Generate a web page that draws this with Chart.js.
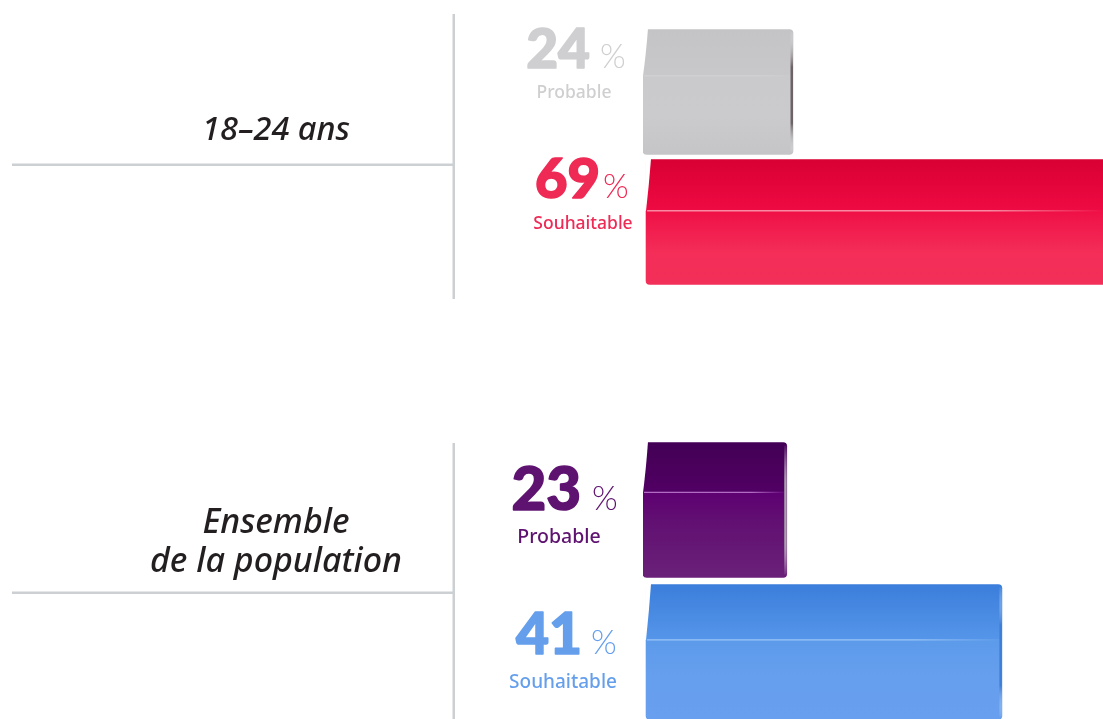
<!DOCTYPE html>
<html lang="fr"><head><meta charset="utf-8">
<style>
html,body{margin:0;padding:0;background:#fff;width:1103px;height:719px;overflow:hidden}
canvas{position:absolute;left:0}
#c1{top:0}#c2{top:430px}
</style>
<script src="https://cdn.jsdelivr.net/npm/chart.js@4/dist/chart.umd.min.js"></script>
</head><body>
<canvas id="c1" width="1103" height="310"></canvas>
<canvas id="c2" width="1103" height="300"></canvas>
<script>
// Data
const rowLabels = ['Probable', 'Souhaitable'];
const topGroup = '18\u201324 ans';
const topProbable = [24, null];
const topSouhaitable = [null, 69];
const bottomGroup = ['Ensemble', 'de la population'];
const bottomProbable = [23, null];
const bottomSouhaitable = [null, 41];

// Styles
const BOX = {
  grey:   {stops:[[0,'#c4c4c6'],[.36,'#c8c8ca'],[.37,'#cacacc'],[.7,'#cbcbcd'],[1,'#c5c5c7']], ridge:'#d0d0d2', text:'#cfcfd1', edge:'#6d6367', ridgeAt:.37},
  red:    {stops:[[0,'#d90033'],[.40,'#ee0a42'],[.41,'#ef1046'],[.75,'#f42e58'],[1,'#f22f58']], ridge:'#f78aa2', text:'#ee2a55', edge:null, ridgeAt:.41},
  purple: {stops:[[0,'#430055'],[.36,'#510063'],[.37,'#5e0072'],[.6,'#621172'],[1,'#6a2079']], ridge:'#b36cc4', text:'#5f1370', edge:'#a9a3ac', ridgeAt:.37},
  blue:   {stops:[[0,'#3b7edb'],[.40,'#5595e9'],[.41,'#5c9bea'],[.7,'#669fee'],[1,'#689fee']], ridge:'#9cc4f6', text:'#659fec', edge:'#3f7ed6', ridgeAt:.41}
};
const FONT = 'Lato, "Noto Sans", sans-serif';
const TEXT_TOP = {
  group:{x:276, ys:[140], size:32.5},
  rows:[
    {digitsRight:590, pctX:600, base:68, labelX:574, labelBase:98, labelSize:17.5, digitSize:55},
    {digitsRight:600, pctX:603, base:198, labelX:583, labelBase:229, labelSize:17.5, digitSize:56}
  ]};
const TEXT_BOTTOM = {
  group:{x:276, ys:[533,572], size:34},
  rows:[
    {digitsRight:581, pctX:592, base:510, labelX:559, labelBase:543, labelSize:19.5, digitSize:60},
    {digitsRight:582, pctX:591, base:654, labelX:563, labelBase:688, labelSize:19, digitSize:57}
  ]};

const boxGeom = (chart, i, th) => {
  const c = chart.scales.y.getPixelForValue(i);
  return {top:c-th/2, bottom:c+th/2};
};

const decor = {
  id:'decor',
  afterDatasetsDraw(chart, _a, o){
    const ctx = chart.ctx, off = chart.canvas.offsetTop;
    ctx.save();
    // rules
    ctx.fillStyle = '#ccd0d3';
    ctx.fillRect(452.5, o.vTop-off, 2.5, o.vBottom-o.vTop);
    ctx.fillRect(12, o.hY-off, 441, 2.5);
    // bar details
    chart.data.datasets.forEach((ds, di) => {
      chart.getDatasetMeta(di).data.forEach((el, i) => {
        if (ds.data[i] == null) return;
        const pal = o.palettes[di];
        const th = ds.barThickness;
        const top = el.y - th/2, h = th, base = el.base, right = Math.min(el.x, chart.width);
        const ry = top + h*pal.ridgeAt;
        // bevelled top-left corner
        ctx.fillStyle = '#fff';
        ctx.beginPath();
        ctx.moveTo(base-1, top-1); ctx.lineTo(base+5, top-1);
        ctx.quadraticCurveTo(base+3, top+h*.2, base, ry);
        ctx.lineTo(base-1, ry);
        ctx.closePath(); ctx.fill();
        // ridge highlight
        const g = ctx.createLinearGradient(base, 0, right, 0);
        g.addColorStop(0, pal.ridge); g.addColorStop(.75, pal.ridge); g.addColorStop(1, pal.stops[2][1]);
        ctx.strokeStyle = g; ctx.lineWidth = 1.3;
        ctx.beginPath(); ctx.moveTo(base+1, ry); ctx.lineTo(right-1, ry); ctx.stroke();
        // right edge shade
        if (pal.edge && el.x < chart.width) {
          const e = ctx.createLinearGradient(0, top, 0, top+h);
          e.addColorStop(0, 'rgba(255,255,255,0)');
          e.addColorStop(.3, pal.edge); e.addColorStop(.75, pal.edge);
          e.addColorStop(1, 'rgba(255,255,255,0)');
          ctx.fillStyle = e;
          ctx.fillRect(right-2.5, top+3, 2.5, h-6);
        }
        // value and name
        const r = o.text.rows[i];
        ctx.fillStyle = pal.text; ctx.strokeStyle = pal.text;
        ctx.textBaseline = 'alphabetic';
        ctx.textAlign = 'right';
        ctx.font = '900 '+r.digitSize+'px '+FONT;
        ctx.lineWidth = 1.6; ctx.lineJoin = 'round';
        ctx.fillText(String(ds.data[i]), r.digitsRight, r.base-off);
        ctx.strokeText(String(ds.data[i]), r.digitsRight, r.base-off);
        ctx.textAlign = 'left';
        ctx.font = '300 33px '+FONT;
        ctx.fillText('%', r.pctX, r.base-off);
        ctx.textAlign = 'center';
        ctx.font = '500 '+r.labelSize+'px "Noto Sans", sans-serif';
        ctx.fillText(chart.data.labels[i], r.labelX, r.labelBase-off);
      });
    });
    // group title
    const lines = [].concat(o.group);
    ctx.fillStyle = '#231f20';
    ctx.textAlign = 'center';
    ctx.font = 'italic 500 '+o.text.group.size+'px "Noto Sans", sans-serif';
    lines.forEach((t, k) => ctx.fillText(t, o.text.group.x, o.text.group.ys[k]-off));
    ctx.restore();
  }
};

function build(id, group, prob, souh, palP, palS, th, padTop, padBottom, text, vTop, vBottom, hY){
  const fill = (pal) => (c) => {
    const chart = c.chart;
    if (!chart.chartArea || !chart.scales.y) return pal.stops[2][1];
    const g0 = boxGeom(chart, c.dataIndex, th);
    const g = chart.ctx.createLinearGradient(0, g0.top, 0, g0.bottom);
    pal.stops.forEach(s => g.addColorStop(s[0], s[1]));
    return g;
  };
  return new Chart(document.getElementById(id), {
    type:'bar',
    plugins:[decor],
    data:{labels:rowLabels, datasets:[
      {label:'Probable', data:prob, xAxisID:'xP', grouped:false, barThickness:th, backgroundColor:fill(palP), borderRadius:4, borderSkipped:false},
      {label:'Souhaitable', data:souh, xAxisID:'xS', grouped:false, barThickness:th, backgroundColor:fill(palS), borderRadius:4, borderSkipped:false}
    ]},
    options:{
      indexAxis:'y', responsive:false, animation:false, devicePixelRatio:1,
      layout:{padding:{left:643, right:0, top:padTop, bottom:padBottom}},
      scales:{
        y:{display:false, offset:true},
        xP:{display:false, type:'linear', min:0, max:73.6, position:'top'},
        xS:{display:false, type:'linear', min:-0.35, max:52.65, position:'bottom'}
      },
      plugins:{legend:{display:false}, tooltip:{enabled:false},
        decor:{group, text, palettes:[palP, palS], vTop, vBottom, hY}}
    }
  });
}
build('c1', topGroup, topProbable, topSouhaitable, BOX.grey, BOX.red, 125, 27, 23, TEXT_TOP, 14, 299, 163.5);
build('c2', bottomGroup, bottomProbable, bottomSouhaitable, BOX.purple, BOX.blue, 135, 9, 7, TEXT_BOTTOM, 443, 719, 591.5);
</script>
</body></html>
